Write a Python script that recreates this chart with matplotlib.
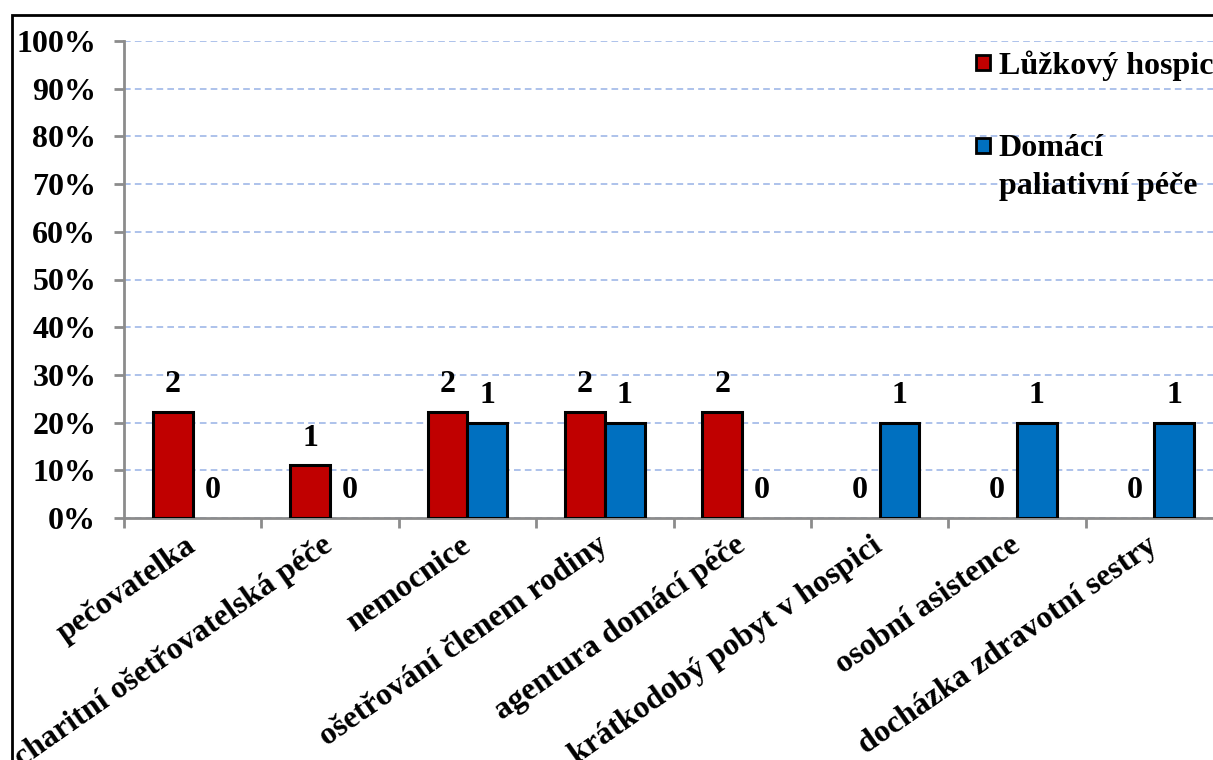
import matplotlib
matplotlib.use("Agg")
import matplotlib.pyplot as plt
from matplotlib.patches import Rectangle
import numpy as np

# data
categories = ["pečovatelka", "charitní ošetřovatelská péče", "nemocnice",
              "ošetřování členem rodiny", "agentura domácí péče",
              "krátkodobý pobyt v hospici", "osobní asistence",
              "docházka zdravotní sestry"]
hospic_counts = [2, 1, 2, 2, 2, 0, 0, 0]
domaci_counts = [0, 0, 1, 1, 0, 1, 1, 1]
series_names = ["Lůžkový hospic", "Domácí\npaliativní péče"]
colors = ["#C00000", "#0070C0"]
yticks = [0, 10, 20, 30, 40, 50, 60, 70, 80, 90, 100]

plt.rcParams['font.family'] = ['Liberation Serif', 'DejaVu Serif']
plt.rcParams['font.weight'] = 'bold'
FS = 23

fig = plt.figure(figsize=(12.13, 7.6), dpi=100)
W, H = 1213, 760
ax = fig.add_axes([124 / W, (H - 518) / H, 1099 / W, (518 - 41) / H])

x = np.arange(len(categories))
bw = 0.29
series = [hospic_counts, domaci_counts]
for k, counts in enumerate(series):
    total = sum(counts)
    pct = [100.0 * c / total for c in counts]
    xs = x + (k - 0.5) * bw
    lws = [2.2 if c else 0 for c in counts]
    ax.bar(xs, pct, bw, color=colors[k], edgecolor="black", linewidth=lws, zorder=3)
    for xi, p, c in zip(xs, pct, counts):
        ax.annotate(str(c), (xi, p), xytext=(0, 9), textcoords="offset points",
                    ha="center", va="bottom", fontsize=FS, fontweight="bold")

ax.set_xlim(-0.5, len(categories) - 0.5)
ax.set_ylim(0, 100)
ax.set_yticks(yticks)
ax.set_yticklabels([f"{v}%" for v in yticks], fontsize=FS, fontweight="bold")
ax.yaxis.grid(True, color="#9FB8E8", linestyle=(0, (4, 2.5)), linewidth=1.2, zorder=0)
ax.set_axisbelow(True)

ax.set_xticks(x)
ax.set_xticklabels(categories, rotation=35, ha="right", va="center",
                   rotation_mode="anchor", fontsize=FS, fontweight="bold")
ax.tick_params(axis="x", which="major", length=0, pad=18)
ax.set_xticks(np.arange(len(categories) + 1) - 0.5, minor=True)
ax.tick_params(axis="x", which="minor", length=7, width=2, color="#8C8C8C")
ax.tick_params(axis="y", length=7, width=2, color="#8C8C8C", pad=13)

for s in ["top", "right"]:
    ax.spines[s].set_visible(False)
for s in ["left", "bottom"]:
    ax.spines[s].set_color("#8C8C8C")
    ax.spines[s].set_linewidth(2)

# legend drawn by hand so the marker sits on the first line of the text
leg_y = [0.955, 0.78]
for k, name in enumerate(series_names):
    ax.add_patch(Rectangle((0.775, leg_y[k] - 0.015), 0.013, 0.031,
                           transform=ax.transAxes, facecolor=colors[k],
                           edgecolor="black", linewidth=2, clip_on=False, zorder=5))
    ax.text(0.796, leg_y[k] + 0.025, name, transform=ax.transAxes, ha="left", va="top",
            fontsize=FS, fontweight="bold", linespacing=1.4, zorder=5)

# outer frame
fig.patches.append(Rectangle((12 / W, -0.2), 1.5, 1.2 - 15 / H,
                             transform=fig.transFigure, fill=False,
                             edgecolor="black", linewidth=2))

fig.savefig("out.png", dpi=100)
